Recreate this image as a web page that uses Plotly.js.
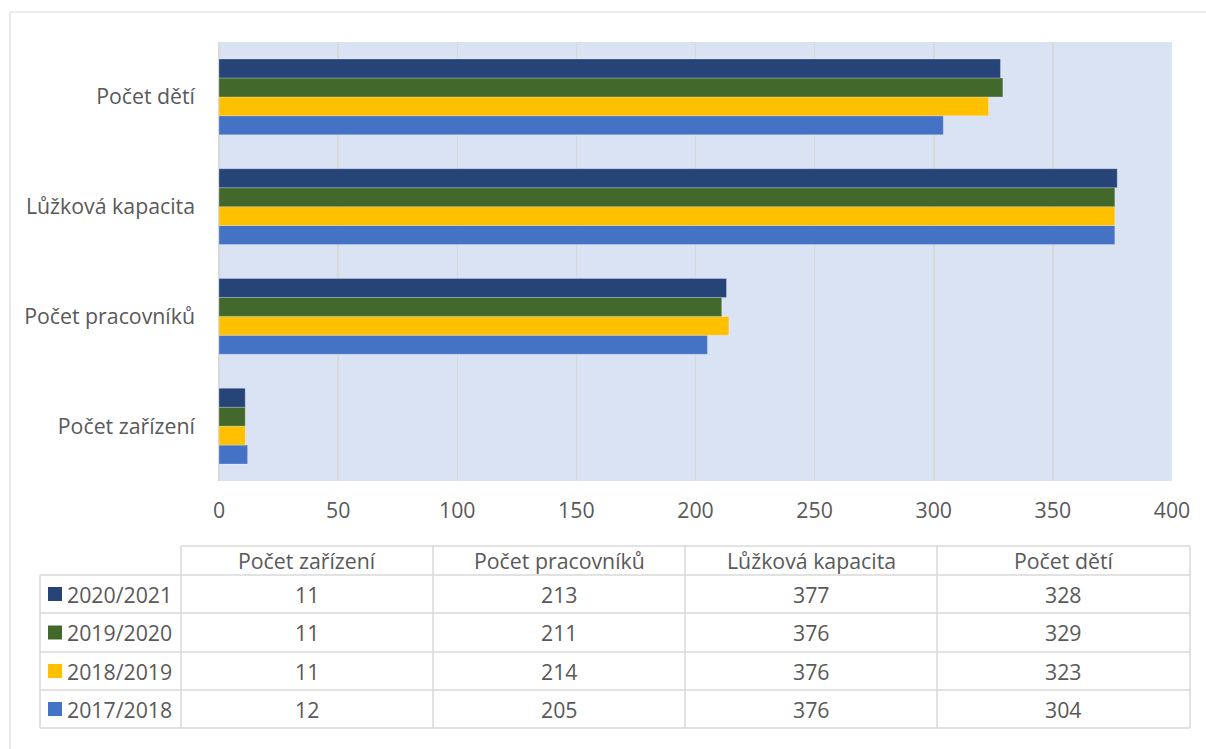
<!DOCTYPE html>
<html>
<head>
<meta charset="utf-8">
<script src="https://cdn.plot.ly/plotly-3.0.1.min.js"></script>
<style>
  html, body { margin: 0; padding: 0; background: #ffffff; }
  #chart { width: 1206px; height: 749px; }
</style>
</head>
<body>
<div id="chart"></div>
<script>
// ---- Data ----
const categories = ["Počet zařízení", "Počet pracovníků", "Lůžková kapacita", "Počet dětí"];
const seriesNames = ["2017/2018", "2018/2019", "2019/2020", "2020/2021"];
const values2017 = [12, 205, 376, 304];
const values2018 = [11, 214, 376, 323];
const values2019 = [11, 211, 376, 329];
const values2020 = [11, 213, 377, 328];
const xTicks = [0, 50, 100, 150, 200, 250, 300, 350, 400];

// ---- Styling ----
const colors = ["#4472C4", "#FFC000", "#43682B", "#264478"];
const textColor = "#595959";
const fontFam = "'Open Sans', 'Noto Sans', sans-serif";
const W = 1206, H = 749;
const plotL = 219, plotR = 1172, plotT = 42, plotB = 481;
const fs = 21.3;

const seriesValues = [values2017, values2018, values2019, values2020];

const traces = seriesNames.map((name, i) => ({
  type: "bar",
  orientation: "h",
  name: name,
  y: categories,
  x: seriesValues[i],
  marker: { color: colors[i], line: { color: "rgba(255,255,255,0.25)", width: 1 } },
  hoverinfo: "x+name"
}));

// pixel -> paper helpers
const px = v => (v - plotL) / (plotR - plotL);
const py = v => (plotB - v) / (plotB - plotT);

// table geometry (pixels)
const colEdges = [181, 433, 685, 937, 1190];
const legendLeft = 40;
const headerTop = 546;
const rowEdges = [575, 613, 652, 690, 728];
const lineColor = "#D9D9D9";

const shapes = [];
const annotations = [];

function hline(y, x0, x1, c, w) {
  shapes.push({ type: "line", xref: "paper", yref: "paper", x0: px(x0), x1: px(x1), y0: py(y), y1: py(y),
    line: { color: c || lineColor, width: w || 1.5 } });
}
function vline(x, y0, y1, c, w) {
  shapes.push({ type: "line", xref: "paper", yref: "paper", x0: px(x), x1: px(x), y0: py(y0), y1: py(y1),
    line: { color: c || lineColor, width: w || 1.5 } });
}

// outer chart border (only top and left edges fall inside the picture)
hline(12, 10, 1206, "#D9D9D9", 1.2);
vline(10, 12, 749, "#D9D9D9", 1.2);

// table grid
hline(headerTop, colEdges[0], colEdges[colEdges.length - 1]);
rowEdges.forEach(y => hline(y, legendLeft, colEdges[colEdges.length - 1]));
vline(legendLeft, rowEdges[0], rowEdges[rowEdges.length - 1]);
colEdges.forEach(x => vline(x, headerTop, rowEdges[rowEdges.length - 1]));

// header labels
categories.forEach((c, j) => {
  annotations.push({ xref: "paper", yref: "paper",
    x: px((colEdges[j] + colEdges[j + 1]) / 2), y: py((headerTop + rowEdges[0]) / 2),
    text: c, showarrow: false, xanchor: "center", yanchor: "middle",
    font: { family: fontFam, size: fs, color: textColor } });
});

// data rows: top row is 2020/2021 -> reverse series order
const rowOrder = [3, 2, 1, 0];
rowOrder.forEach((si, r) => {
  const yc = (rowEdges[r] + rowEdges[r + 1]) / 2;
  shapes.push({ type: "rect", xref: "paper", yref: "paper",
    x0: px(48), x1: px(62), y0: py(yc - 7), y1: py(yc + 7),
    fillcolor: colors[si], line: { width: 0 } });
  annotations.push({ xref: "paper", yref: "paper", x: px(65), y: py(yc),
    text: seriesNames[si], showarrow: false, xanchor: "left", yanchor: "middle",
    font: { family: fontFam, size: fs, color: textColor } });
  seriesValues[si].forEach((v, j) => {
    annotations.push({ xref: "paper", yref: "paper",
      x: px((colEdges[j] + colEdges[j + 1]) / 2), y: py(yc),
      text: String(v), showarrow: false, xanchor: "center", yanchor: "middle",
      font: { family: fontFam, size: fs, color: textColor } });
  });
});

const layout = {
  width: W, height: H,
  margin: { l: plotL, r: W - plotR, t: plotT, b: H - plotB, pad: 0 },
  paper_bgcolor: "#ffffff",
  plot_bgcolor: "#DAE3F3",
  barmode: "group",
  bargap: 0.31,
  bargroupgap: 0,
  showlegend: false,
  font: { family: fontFam, size: fs, color: textColor },
  xaxis: {
    range: [0, 400],
    tickvals: xTicks,
    ticktext: xTicks.map(String),
    showgrid: true, gridcolor: "#D9D9D9", gridwidth: 1.5,
    zeroline: true, zerolinecolor: "#D9D9D9", zerolinewidth: 1.5,
    showline: false, ticks: "",
    ticklabelstandoff: 15,
    tickfont: { family: fontFam, size: fs, color: textColor },
    fixedrange: true
  },
  yaxis: {
    type: "category",
    categoryorder: "array",
    categoryarray: categories,
    showgrid: false, showline: false, ticks: "",
    ticklabelstandoff: 23,
    tickfont: { family: fontFam, size: fs, color: textColor },
    fixedrange: true
  },
  shapes: shapes,
  annotations: annotations
};

Plotly.newPlot("chart", traces, layout, { displayModeBar: false, staticPlot: true });
</script>
</body>
</html>
